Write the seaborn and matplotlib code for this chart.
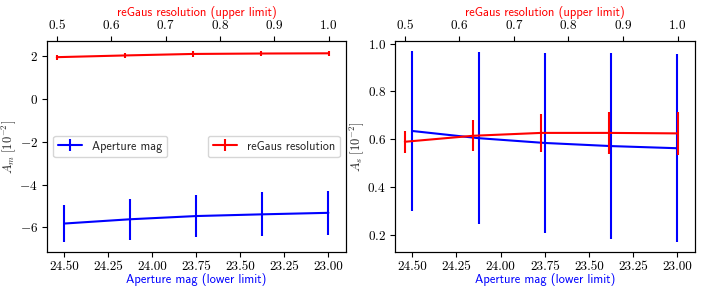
import matplotlib
matplotlib.use("Agg")
import matplotlib.pyplot as plt
import seaborn as sns
import numpy as np

# bottom axis: aperture magnitude (lower limit), top axis: reGaus resolution (upper limit)
mag_limits = [24.5, 24.125, 23.75, 23.375, 23.0]
res_limits = [0.5, 0.625, 0.75, 0.875, 1.0]

# A_m [1e-2]
am_mag = [-5.82, -5.62, -5.47, -5.39, -5.32]
am_mag_err = [0.88, 0.96, 0.98, 1.02, 1.02]
am_res = [1.95, 2.03, 2.10, 2.12, 2.13]
am_res_err = [0.12, 0.12, 0.12, 0.12, 0.12]

# A_s [1e-2]
as_mag = [0.635, 0.605, 0.585, 0.572, 0.563]
as_mag_err = [0.335, 0.36, 0.375, 0.388, 0.393]
as_res = [0.590, 0.615, 0.627, 0.627, 0.625]
as_res_err = [0.046, 0.065, 0.078, 0.087, 0.09]

sns.set_theme(style="ticks")
plt.rcParams["font.family"] = ["cmr10", "DejaVu Sans"]
plt.rcParams["mathtext.fontset"] = "cm"
plt.rcParams["axes.formatter.use_mathtext"] = True
plt.rcParams["axes.unicode_minus"] = True
plt.rcParams["axes.edgecolor"] = "black"
plt.rcParams["xtick.color"] = "black"
plt.rcParams["ytick.color"] = "black"

fig = plt.figure(figsize=(7.06, 2.94), dpi=100)
ax1 = fig.add_axes([0.0666, 0.143, 0.4235, 0.717])
ax2 = fig.add_axes([0.5595, 0.143, 0.4249, 0.717])

sans = {"family": "cmss10", "size": 9}
legend_font = {"family": "cmss10", "size": 8.8}

panels = [
    (ax1, am_mag, am_mag_err, am_res, am_res_err, r"$A_m\ [10^{-2}]$"),
    (ax2, as_mag, as_mag_err, as_res, as_res_err, r"$A_s\ [10^{-2}]$"),
]

for ax, ym, em, yr, er, ylab in panels:
    ax.errorbar(mag_limits, ym, yerr=em, color="blue", lw=1.5, label="Aperture mag")
    ax.set_xlim(24.598, 22.90)
    ax.set_xticks([24.5, 24.25, 24.0, 23.75, 23.5, 23.25, 23.0])
    ax.set_xticklabels(["24.50", "24.25", "24.00", "23.75", "23.50", "23.25", "23.00"])
    ax.set_xlabel("Aperture mag (lower limit)", color="blue", fontdict=sans, labelpad=0)
    ax.set_ylabel(ylab, fontsize=9, labelpad=1)
    ax.tick_params(labelsize=9.5, length=3.5, width=0.8, pad=3)

    top = ax.twiny()
    top.errorbar(res_limits, yr, yerr=er, color="red", lw=1.5, label="reGaus resolution")
    top.set_xlim(0.482, 1.032)
    top.set_xticks([0.5, 0.6, 0.7, 0.8, 0.9, 1.0])
    top.set_xlabel("reGaus resolution (upper limit)", color="red", fontdict=sans, labelpad=1.5)
    top.tick_params(labelsize=9.5, length=3.5, width=0.8, pad=3)

    for spine in list(ax.spines.values()) + list(top.spines.values()):
        spine.set_linewidth(0.8)
        spine.set_edgecolor("black")

    if ax is ax1:
        ax.legend(loc="center left", prop=legend_font)
        top.legend(loc="center right", prop=legend_font)

ax2.set_yticks([0.2, 0.4, 0.6, 0.8, 1.0])

fig.savefig("out.png", dpi=100)
